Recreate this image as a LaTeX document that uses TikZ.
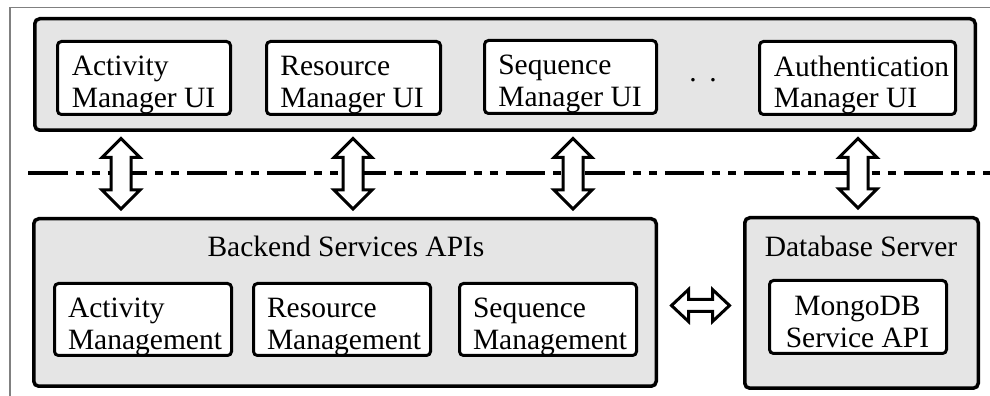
\documentclass[tikz,border=0pt]{standalone}
\usepackage{fontspec}
\setmainfont{Liberation Serif}
\usetikzlibrary{calc}
\definecolor{boxgray}{RGB}{229,229,229}
\definecolor{framegray}{RGB}{128,128,128}
\tikzset{
  txt/.style={font=\fontsize{29.5}{31.5}\selectfont, inner sep=0pt},
  outerbox/.style={draw=black, line width=3.5pt, fill=boxgray, rounded corners=5pt, inner sep=0pt},
  innerbox/.style={draw=black, line width=3pt, fill=white, rounded corners=4pt, inner sep=0pt, minimum height=73pt},
  hollow/.style={draw=black, fill=white, line width=3pt, line join=miter},
  dashdotdot/.style={line width=3.5pt, dash pattern=on 39.6pt off 8pt on 8pt off 8pt on 8pt off 8pt},
  framestyle/.style={draw=framegray, line width=1.5pt},
}
% vertical hollow double arrow at x=#1 between node #2 (above) and node #3 (below)
\newcommand\vdarr[3]{%
  \draw[hollow] let \p1=(#2.south), \p2=(#3.north) in
    (#1,\y1-6.5) -- (#1+19,\y1-25.5) -- (#1+10,\y1-25.5) -- (#1+10,\y2+27) -- (#1+19,\y2+27)
    -- (#1,\y2+8) -- (#1-19,\y2+27) -- (#1-10,\y2+27) -- (#1-10,\y1-25.5) -- (#1-19,\y1-25.5) -- cycle;}
\begin{document}
\begin{tikzpicture}[x=1pt,y=1pt]
\useasboundingbox (0,0) rectangle (990,396);
% frame
\coordinate (fb) at (10,0);
\coordinate (fc) at (10,388.7);
\coordinate (fr) at (990,388.7);
\draw[framestyle] (fb) -- (fc) -- (fr);

% top container
\node[outerbox, minimum width=940.5pt, minimum height=111.5pt] (top) at (505,321.5) {};
\node[innerbox, minimum width=173pt] (aui) at (144,318) {};
\node[txt, align=left] (auit) at (143.5,311) {Activity\\Manager UI};
\node[innerbox, minimum width=174pt] (rui) at (353.5,318) {};
\node[txt, align=left] (ruit) at (352,311) {Resource\\Manager UI};
\node[innerbox, minimum width=172pt] (sui) at (570.5,319) {};
\node[txt, align=left] (suit) at (570,312) {Sequence\\Manager UI};
\node[txt, anchor=base] (dots) at (703,314) {.\hspace{12.6pt}.};
\node[innerbox, minimum width=196pt] (uui) at (857.5,318) {};
\node[txt, align=left] (uuit) at (861.5,311) {Authentication\\Manager UI};

% dash-dot-dot separator
\coordinate (dl) at (28,223);
\coordinate (dr) at (990,223);
\draw[dashdotdot] (dl) -- (dr);

% backend
\node[outerbox, minimum width=622.5pt, minimum height=167.5pt] (be) at (345,93.5) {};
\node[txt, anchor=base] (bet) at (346,139) {Backend Services APIs};
\node[innerbox, minimum width=177pt, minimum height=72pt] (am) at (143,76.5) {};
\node[txt, align=left] (amt) at (145,69) {Activity\\Management};
\node[innerbox, minimum width=177pt, minimum height=72pt] (rm) at (342,76.5) {};
\node[txt, align=left] (rmt) at (344,69) {Resource\\Management};
\node[innerbox, minimum width=177pt, minimum height=72pt] (sm) at (548,76.5) {};
\node[txt, align=left] (smt) at (550,69) {Sequence\\Management};

% database
\node[outerbox, minimum width=233.5pt, minimum height=170.5pt] (db) at (861.5,93) {};
\node[txt, anchor=base] (dbt) at (861,139) {Database Server};
\node[innerbox, minimum width=177pt] (mg) at (858,79) {};
\node[txt, align=center] (mgt) at (857.5,74) {MongoDB\\Service API};

% vertical arrows
\vdarr{121}{top}{be}
\vdarr{353}{top}{be}
\vdarr{573}{top}{be}
\vdarr{858}{top}{db}

% horizontal arrow
\draw[hollow] let \p1=(be.east), \p2=(db.west) in
  (\x1+13.5,90.5) -- (\x1+30.5,106.5) -- (\x1+30.5,96.5) -- (\x2-30.5,96.5) -- (\x2-30.5,106.5)
  -- (\x2-13.5,90.5) -- (\x2-30.5,74.5) -- (\x2-30.5,84.5) -- (\x1+30.5,84.5) -- (\x1+30.5,74.5) -- cycle;
\end{tikzpicture}
\end{document}
